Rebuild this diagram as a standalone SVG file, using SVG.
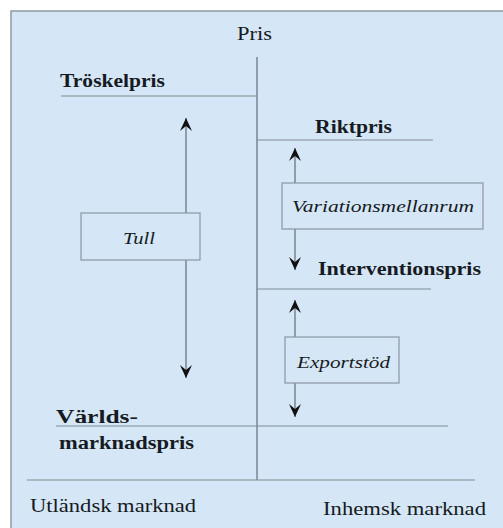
<svg xmlns="http://www.w3.org/2000/svg" width="503" height="528" viewBox="0 0 503 528">
<style>
.ln{stroke:#7f8c96;stroke-width:1.2;fill:none}
.ax{stroke:#4a5560;stroke-width:1;fill:none}
.bx{fill:#d5e7f6;stroke:#8a97a2;stroke-width:1.2}
.b{font-family:"Liberation Serif","Times New Roman",serif;font-weight:bold;font-size:18px;fill:#161a22}
.r{font-family:"Liberation Serif","Times New Roman",serif;font-size:18px;fill:#161a22}
.i{font-family:"Liberation Serif","Times New Roman",serif;font-style:italic;font-size:17px;fill:#161a22}
</style>
<defs>
<marker id="ah" viewBox="0 0 13 12" refX="13" refY="6" markerWidth="13" markerHeight="12" markerUnits="userSpaceOnUse" orient="auto-start-reverse">
<path d="M13,6 L0,0 L5,6 L0,12 Z" fill="#111"/>
</marker>
</defs>
<rect x="0" y="0" width="503" height="528" fill="#ffffff"/>
<rect x="11" y="11" width="500" height="530" fill="#d5e7f6" stroke="#8f9aa3" stroke-width="1.5"/>
<g id="axes">
<line class="ax" x1="257" y1="57" x2="257" y2="480"/>
<line class="ln" x1="27" y1="480" x2="475" y2="480"/>
<text class="r" x="237" y="40" textLength="35" lengthAdjust="spacingAndGlyphs">Pris</text>
<text class="r" x="30" y="512" textLength="166" lengthAdjust="spacingAndGlyphs">Utländsk marknad</text>
<text class="r" x="323" y="515" textLength="163" lengthAdjust="spacingAndGlyphs">Inhemsk marknad</text>
</g>
<g id="troskelpris">
<line class="ln" x1="61" y1="96" x2="257" y2="96"/>
<text class="b" x="60" y="87" textLength="105" lengthAdjust="spacingAndGlyphs">Tröskelpris</text>
</g>
<g id="riktpris">
<line class="ln" x1="257" y1="140" x2="433" y2="140"/>
<text class="b" x="315" y="133" textLength="77" lengthAdjust="spacingAndGlyphs">Riktpris</text>
</g>
<g id="interventionspris">
<line class="ln" x1="257" y1="289" x2="431" y2="289"/>
<text class="b" x="318" y="275" textLength="163" lengthAdjust="spacingAndGlyphs">Interventionspris</text>
</g>
<g id="varldsmarknadspris">
<line class="ln" x1="56" y1="426" x2="448" y2="426"/>
<text class="b" x="56" y="423" textLength="82" lengthAdjust="spacingAndGlyphs">Världs-</text>
<text class="b" x="59" y="449" textLength="135" lengthAdjust="spacingAndGlyphs">marknadspris</text>
</g>
<g id="connectors">
<line class="ax" x1="186" y1="118" x2="186" y2="213" marker-start="url(#ah)"/>
<line class="ax" x1="186" y1="260" x2="186" y2="378" marker-end="url(#ah)"/>
<line class="ax" x1="295" y1="148" x2="295" y2="183" marker-start="url(#ah)"/>
<line class="ax" x1="295" y1="229" x2="295" y2="270" marker-end="url(#ah)"/>
<line class="ax" x1="295" y1="300" x2="295" y2="337" marker-start="url(#ah)"/>
<line class="ax" x1="295" y1="383" x2="295" y2="417" marker-end="url(#ah)"/>
</g>
<g id="tull">
<rect class="bx" x="81" y="213" width="119" height="47"/>
<text class="i" x="123" y="244" textLength="32" lengthAdjust="spacingAndGlyphs">Tull</text>
</g>
<g id="variationsmellanrum">
<rect class="bx" x="282" y="183" width="201" height="46"/>
<text class="i" x="292" y="212" textLength="182" lengthAdjust="spacingAndGlyphs">Variationsmellanrum</text>
</g>
<g id="exportstod">
<rect class="bx" x="285" y="337" width="114" height="46"/>
<text class="i" x="297" y="368" textLength="93" lengthAdjust="spacingAndGlyphs">Exportstöd</text>
</g>
</svg>
